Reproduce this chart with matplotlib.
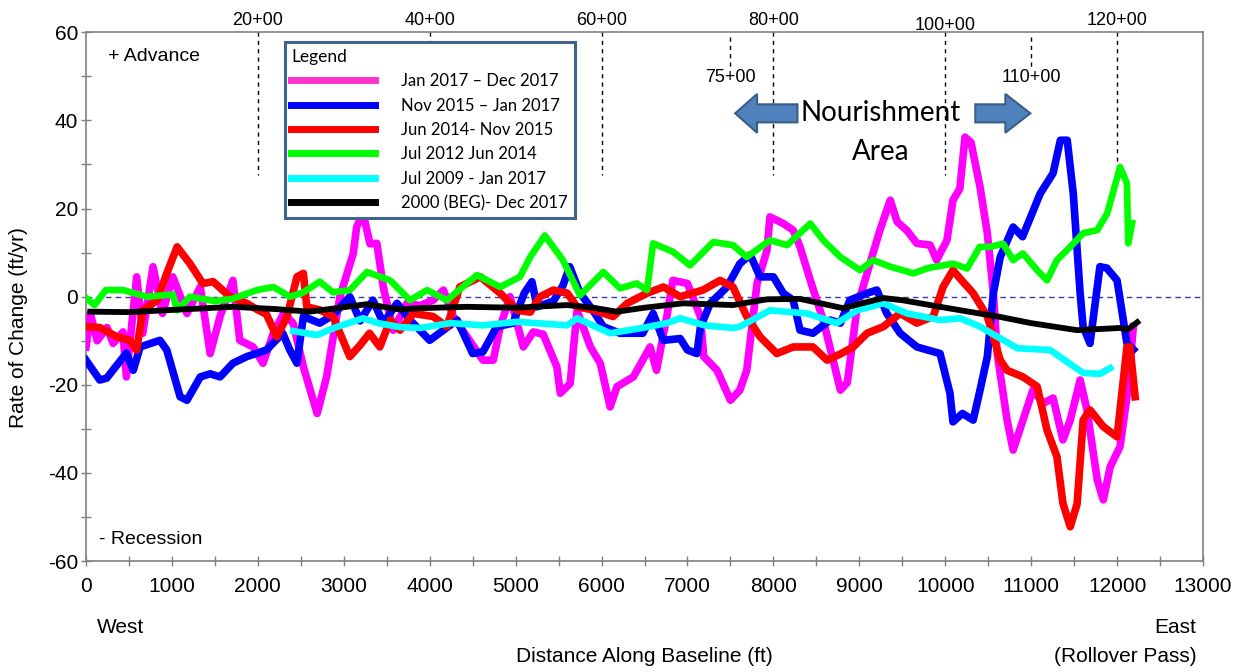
import matplotlib
matplotlib.use("Agg")
import matplotlib.pyplot as plt
from matplotlib.patches import FancyArrow
from matplotlib.ticker import MultipleLocator
import matplotlib.transforms as mtrans

plt.rcParams["axes.unicode_minus"] = False

# ---- data (distance ft, rate ft/yr) ----
mag_x = [0, 50, 130, 245, 315, 430, 470, 590, 660, 780, 890, 1010, 1175, 1330, 1445, 1560,
         1710, 1790, 1945, 2060, 2180, 2300, 2410, 2530, 2690, 2800, 2955, 3110, 3150, 3225,
         3305, 3385, 3460, 3575, 3735, 3890, 4040, 4160, 4275, 4435, 4620, 4740, 4820, 4935,
         5090, 5205, 5320, 5480, 5520, 5635, 5715, 5870, 5985, 6100, 6180, 6370, 6565, 6640,
         6760, 6830, 7000, 7150, 7190, 7345, 7500, 7610, 7690, 7810, 7925, 7960, 8115, 8230,
         8310, 8430, 8580, 8695, 8780, 8860, 8975, 9090, 9240, 9360, 9440, 9555, 9670, 9825,
         9900, 10020, 10090, 10170, 10230, 10300, 10405, 10490, 10560, 10605, 10720, 10790,
         10905, 11020, 11140, 11255, 11370, 11455, 11570, 11650, 11770, 11840, 11920, 12035,
         12115, 12190]
mag_y = [-11.4, -3.8, -10, -7, -10.6, -8, -18.2, 4.5, -8.3, 6.8, -3.8, 4.5, -3.8, 2.2, -12.9, -4.5,
         3.7, -9.9, -11.4, -15.1, -8.3, -3.8, -6, -15.9, -26.5, -18.2, 0, 9.8, 15.8, 18.9,
         12, 12.1, 2.2, -7.6, -1.5, -2, -0.8, 1.5, -4.5, -9.1, -14.4, -14.4, -6.8, 0,
         -11.4, -8, -8.5, -15.9, -21.9, -19.7, -3.1, -11.4, -15.1, -25, -20.4, -18.2, -11.4, -16.7,
         -4.5, 3.7, 3, -4.5, -13.6, -16.7, -23.5, -21.2, -16.7, 3, 10.5, 18.1, 16.6, 15.1,
         11.3, 3.7, -5.3, -14.4, -21.2, -19.5, -2.3, 5.3, 15.1, 21.9, 17, 15, 12.1, 11.7,
         8.3, 12.8, 21.9, 24.5, 36.2, 35, 24.9, 14.4, 0.8, -12.9, -28, -34.8,
         -28, -21.2, -24.2, -23, -32.5, -28, -18.9, -25.7, -41.6, -46.1, -38.6, -34,
         -22.7, -6.8]

blue_x = [0, 160, 240, 470, 550, 630, 860, 940, 1095, 1175, 1330, 1445, 1560, 1710, 1870, 2100,
          2290, 2370, 2455, 2530, 2720, 2875, 3070, 3190, 3340, 3460, 3620, 3770, 4000, 4320,
          4500, 4620, 4780, 4970, 5100, 5190, 5250, 5440, 5550, 5630, 5750, 5900, 6020, 6215,
          6480, 6600, 6720, 6915, 7000, 7110, 7150, 7265, 7460, 7610, 7730, 7845, 8000, 8115,
          8230, 8310, 8460, 8660, 8780, 8890, 9090, 9205, 9320, 9475, 9670, 9940, 10055, 10090,
          10200, 10325, 10405, 10490, 10560, 10640, 10790, 10900, 11105, 11255, 11340, 11420,
          11490, 11570, 11605, 11685, 11800, 11880, 12000, 12115, 12190]
blue_y = [-14.4, -18.9, -18.5, -12.8, -16.7, -11.4, -9.9, -12.1, -22.7, -23.5, -18.2, -17.5, -18.2, -15.1, -13.6, -12.1,
          -8.3, -12, -15.1, -4.5, -6, -4.2, 0, -5.5, -0.8, -6, -1.5, -5.3, -9.9, -5.3,
          -12.9, -12.5, -6.8, -6, 0.8, 3.4, -2.3, -1, 2.5, 6.8, 0.8, -3.1, -6.8, -8.3,
          -8.3, -3.8, -9.9, -9.5, -12.1, -12.9, -7, -1.5, 2.2, 7.5, 9.5, 4.5, 4.5, 0.8,
          -0.8, -7.6, -8.3, -5.3, -6, -0.8, 0.8, 1.5, -3.8, -8.3, -11.4, -12.9, -21.9, -28.4,
          -26.5, -28, -21.2, -13.6, 0.8, 9, 15.8, 13.6, 23.4, 28, 35.5, 35.5,
          23.4, 0.8, -6.8, -10.6, 6.8, 6.5, 3.7, -10.6, -12]

red_x = [0, 160, 360, 510, 590, 660, 830, 940, 1060, 1210, 1360, 1480, 1675, 1870, 2000, 2100,
         2220, 2340, 2455, 2530, 2570, 2720, 2875, 3070, 3190, 3300, 3420, 3540, 3655, 3810,
         4040, 4200, 4350, 4590, 4820, 5020, 5170, 5285, 5440, 5600, 5715, 5900, 6135, 6300,
         6530, 6720, 6915, 7180, 7380, 7530, 7690, 7845, 8040, 8230, 8460, 8625, 8780, 8930,
         9090, 9280, 9475, 9670, 9860, 9975, 10090, 10200, 10325, 10490, 10640, 10720, 10905,
         11070, 11185, 11300, 11370, 11455, 11535, 11605, 11685, 11840, 12000, 12115, 12150,
         12210]
red_y = [-6.8, -7, -9.1, -9.9, -12.1, -3.1, -0.8, 5.3, 11.3, 7.5, 3, 3.4, 0, -1.5, -3, -4,
         -9.1, -4.5, 4.5, 5.3, -2.3, -3, -4.5, -13.6, -11, -8.3, -11.4, -5.3, -7.6, -3.8,
         -4.5, -6.8, 2.2, 4.5, 0.8, -3.1, -3.5, 0, 1.5, 0.8, -2.3, -3, -4.5, -1.5,
         0.8, 2.2, 0, 1.5, 3.7, 2.2, -4.5, -9.1, -12.9, -11.4, -11.4, -14.4, -13, -11.4,
         -8.3, -6.8, -3.8, -6, -4.5, 2.2, 6, 3.5, 0.8, -4.5, -14.4, -16.7, -18.2,
         -20.4, -30.3, -36.3, -46.9, -52.2, -47, -28, -25.7, -29.5, -31.8, -11.4, -11.4,
         -22.7]

green_x = [0, 100, 230, 430, 710, 1010, 1060, 1210, 1500, 1700, 1990, 2180, 2375, 2530, 2720,
           2875, 3070, 3270, 3540, 3770, 3970, 4200, 4550, 4820, 5050, 5170, 5340, 5550, 5750,
           6020, 6215, 6410, 6530, 6600, 6830, 7030, 7300, 7530, 7690, 7960, 8160, 8430, 8580,
           8780, 9010, 9160, 9360, 9630, 9800, 10090, 10255, 10400, 10520, 10675, 10790, 10905,
           11070, 11185, 11300, 11455, 11605, 11770, 11885, 12035, 12115, 12130, 12175]
green_y = [-0.3, -1.9, 1.5, 1.5, 0, 0.5, -3.1, 0, -1, -0.5, 1.5, 2.2, 0, 1, 3.4,
           1, 1.5, 5.6, 3.7, -0.8, 1.5, -0.8, 4.9, 2.2, 4.5, 9, 13.9, 8.3, 0.3,
           5.6, 1.9, 3, 1.5, 12.1, 10.2, 7.1, 12.4, 11.7, 9, 12.8, 11.7, 16.6, 12.8,
           9, 6, 8.3, 6.8, 5.3, 6.5, 7.5, 6.4, 11.3, 11.3, 12, 8.3, 9.8,
           6, 3.7, 8.3, 11.3, 14.4, 15.1, 18.9, 29.4, 25.7, 12.1, 16.7]

cyan_x = [2410, 2690, 2900, 3225, 3400, 3655, 3890, 4240, 4620, 5020, 5600, 5715, 6100, 6500,
          6760, 6915, 7200, 7530, 7610, 7960, 8390, 8740, 8975, 9280, 9555, 9940, 10175, 10405,
          10840, 11220, 11605, 11800, 11920]
cyan_y = [-7.8, -8.7, -7, -4.9, -6, -6.9, -7.1, -6, -6.5, -5.7, -6.5, -4.9, -8.3, -7,
          -6, -4.9, -6.5, -7.1, -6.8, -3.1, -3.8, -6, -3.1, -1.5, -3.8, -5.3, -4.9, -6.8,
          -11.7, -12.1, -17.3, -17.5, -16.2]

black_x = [50, 500, 1000, 1710, 2200, 2600, 3270, 3655, 3890, 4435, 5000, 5600, 5900, 6180,
           6500, 6950, 7530, 7925, 8310, 8810, 9280, 9500, 10000, 10640, 11000, 11535, 12035,
           12120, 12235]
black_y = [-3.4, -3.5, -3, -2.3, -2.8, -3.4, -1.7, -2.9, -2.6, -2.3, -2.5, -1.9, -2.5, -3.4,
           -2.5, -1.5, -1.9, -0.6, -0.5, -2.6, -0.3, -0.8, -2.5, -4.6, -6, -7.6, -7.1,
           -7.5, -5.8]

labels = ["Jan 2017 \u2013 Dec 2017", "Nov 2015 \u2013 Jan 2017", "Jun 2014- Nov 2015",
          "Jul 2012 Jun 2014", "Jul 2009 - Jan 2017", "2000 (BEG)- Dec 2017"]

stations_long = [2000, 4000, 6000, 8000, 10000, 12000]
stations_long_lbl = ["20+00", "40+00", "60+00", "80+00", "100+00", "120+00"]
stations_short = [7500, 11000]
stations_short_lbl = ["75+00", "110+00"]

# ---- figure ----
arial = ["Liberation Sans", "DejaVu Sans"]
calibri = ["Lato", "DejaVu Sans"]

fig = plt.figure(figsize=(12.5, 6.72), dpi=100)
ax = fig.add_axes([0.0688, 0.165, 0.8936, 0.787])

series = [
    (mag_x, mag_y, "#FF00FF", 5.5, "#FF33CC"),
    (blue_x, blue_y, "#0000FF", 5.5, "#0000FF"),
    (red_x, red_y, "#FF0000", 5.5, "#FF0000"),
    (green_x, green_y, "#00FF00", 4.8, "#00FF00"),
    (cyan_x, cyan_y, "#00FFFF", 4.8, "#00FFFF"),
    (black_x, black_y, "#000000", 4.2, "#000000"),
]
handles = []
for (xs, ys, c, lw, lc), lab in zip(series, labels):
    ax.plot(xs, ys, color=c, lw=lw, solid_joinstyle="round", zorder=3)
    h, = ax.plot([], [], color=lc, lw=5, label=lab)
    handles.append(h)

ax.axhline(0, color="#3A3AA8", lw=1, ls=(0, (4, 3)), zorder=2)

ax.set_xlim(0, 13000)
ax.set_ylim(-60, 60)
ax.xaxis.set_major_locator(MultipleLocator(1000))
ax.xaxis.set_minor_locator(MultipleLocator(500))
ax.yaxis.set_major_locator(MultipleLocator(20))
ax.yaxis.set_minor_locator(MultipleLocator(10))
ax.tick_params(which="both", direction="inout", color="#808080")
ax.tick_params(which="major", length=7, width=1, labelsize=15)
ax.tick_params(which="minor", length=7, width=1)
ax.tick_params(axis="x", pad=8)
ax.tick_params(axis="y", pad=2)
for lb in ax.get_xticklabels() + ax.get_yticklabels():
    lb.set_family(arial)
for s in ax.spines.values():
    s.set_color("#808080")
    s.set_linewidth(1.2)

# station lines and labels
top = mtrans.blended_transform_factory(ax.transData, ax.transAxes)
for st, lb in zip(stations_long, stations_long_lbl):
    ax.plot([st, st], [60, 27.5], color="black", lw=1, ls=(0, (3, 3)), zorder=1)
    ax.text(st, 1.023 if lb != "100+00" else 1.013, lb, transform=top, ha="center",
            va="center", fontsize=13, family=arial, clip_on=False)
for st, lb in zip(stations_short, stations_short_lbl):
    ax.plot([st, st], [59, 51.4], color="black", lw=1, ls=(0, (3, 3)), zorder=1)
    ax.text(st, 49.8, lb, ha="center", va="center", fontsize=13, family=arial)

# nourishment arrows
arrow_kw = dict(width=4.1, head_width=8.8, length_includes_head=True,
                facecolor="#4F81BD", edgecolor="#385D8A", lw=1.5, zorder=4)
ax.add_patch(FancyArrow(8280, 41.6, -725, 0, head_length=255, **arrow_kw))
ax.add_patch(FancyArrow(10350, 41.6, 640, 0, head_length=290, **arrow_kw))
ax.text(9245, 41.6, "Nourishment", ha="center", va="center", fontsize=20, family=calibri, zorder=5)
ax.text(9245, 32.8, "Area", ha="center", va="center", fontsize=20, family=calibri, zorder=5)

ax.text(0.02, 0.955, "+ Advance", transform=ax.transAxes, fontsize=14, family=arial, va="center")
ax.text(0.012, 0.04, "- Recession", transform=ax.transAxes, fontsize=14, family=arial, va="center")

# axis labels
ax.text(-0.06, 0.442, "Rate of Change (ft/yr)", transform=ax.transAxes, rotation=90,
        ha="center", va="center", fontsize=15, family=arial)
ax.text(0.5, -0.181, "Distance Along Baseline (ft)", transform=ax.transAxes,
        ha="center", va="center", fontsize=15, family=arial)
ax.text(0.01, -0.125, "West", transform=ax.transAxes, ha="left", va="center",
        fontsize=15, family=arial)
ax.text(0.994, -0.125, "East", transform=ax.transAxes, ha="right", va="center",
        fontsize=15, family=arial)
ax.text(0.994, -0.181, "(Rollover Pass)", transform=ax.transAxes, ha="right", va="center",
        fontsize=15, family=arial)

leg = ax.legend(handles=handles, loc="upper left", bbox_to_anchor=(0.178, 0.981),
                borderaxespad=0, title="Legend", alignment="left", fancybox=False,
                framealpha=1, edgecolor="#41648B", handlelength=5.0, handletextpad=1.6,
                labelspacing=0.5, borderpad=0.4, prop={"family": calibri, "size": 12},
                title_fontproperties={"family": calibri, "size": 12.5})
leg.get_frame().set_linewidth(2.2)
leg.set_zorder(6)

fig.savefig("out.png", dpi=100)
